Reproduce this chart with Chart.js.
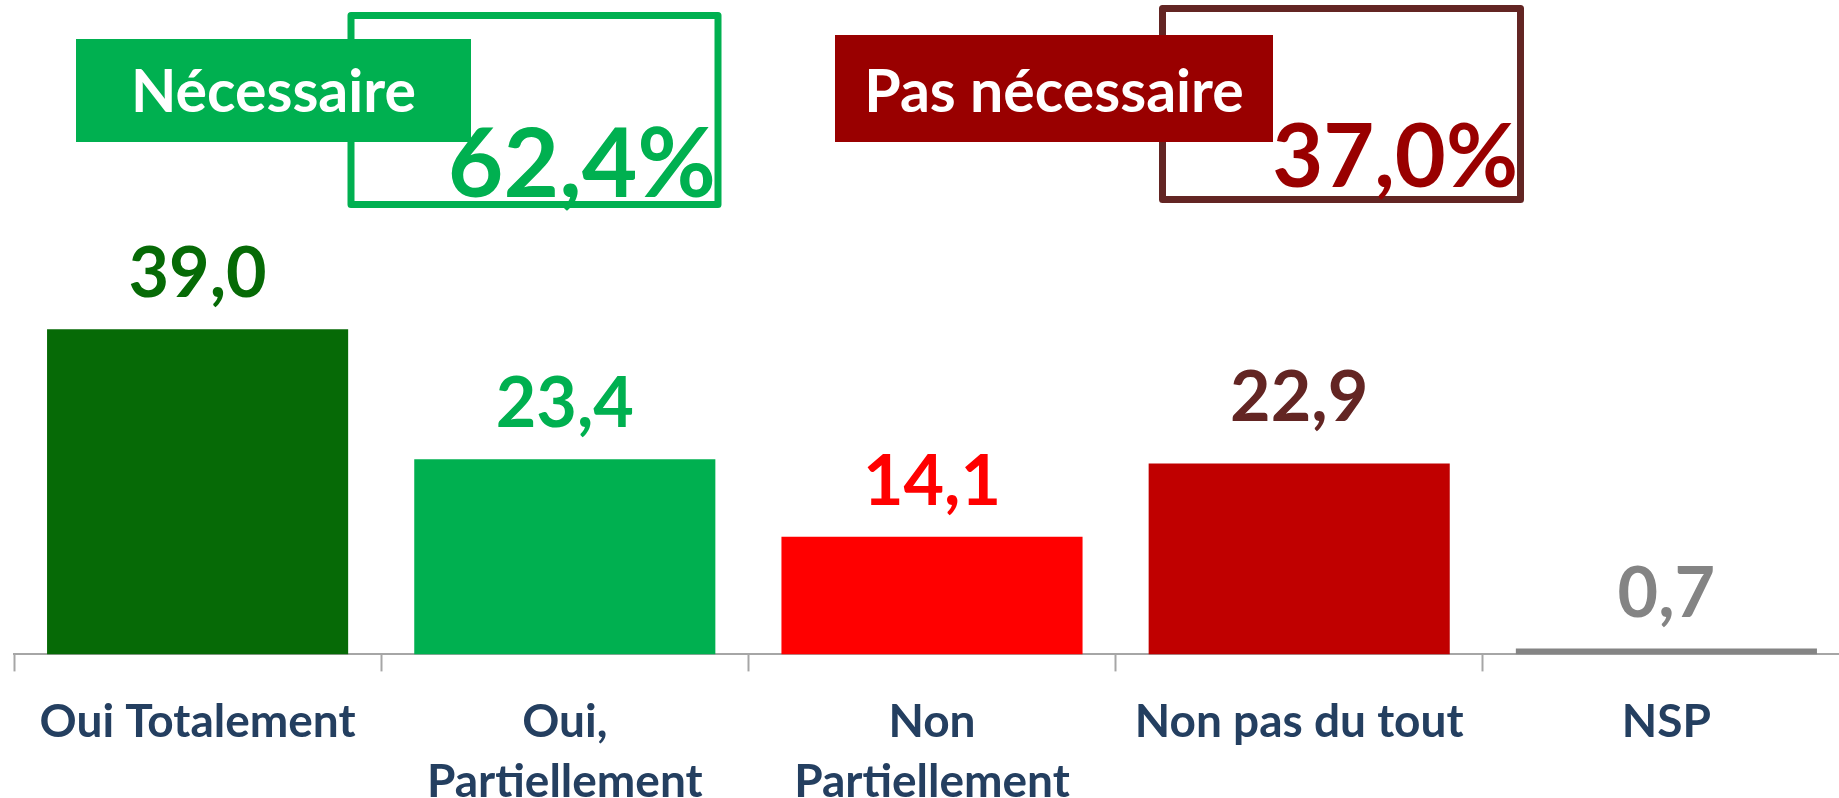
<!DOCTYPE html>
<html>
<head>
<meta charset="utf-8">
<script src="https://cdn.jsdelivr.net/npm/chart.js@4/dist/chart.umd.min.js"></script>
<style>
  html, body { margin: 0; padding: 0; background: #ffffff; overflow: hidden; }
  #wrap { position: relative; width: 1850px; height: 842px; }
</style>
</head>
<body>
<div id="wrap"><canvas id="canvas"></canvas></div>
<script>
// categories and values
const categories = [ 'Oui Totalement', [ 'Oui,', 'Partiellement' ], [ 'Non', 'Partiellement' ], 'Non pas du tout', 'NSP' ];
const values = [ 39.0, 23.4, 14.1, 22.9, 0.7 ];
// groups : which bars add up to each headline percentage
const groupNames = [ 'Nécessaire', 'Pas nécessaire' ];
const groupMembers = [ [ 0, 1 ], [ 2, 3 ] ];

const barColors = [ '#066a06', '#00b050', '#ff0000', '#c00000', '#848484' ];
const labelColors = [ '#066a06', '#00b050', '#ff0000', '#632523', '#848484' ];
const labelLift = [ 0, 0, 0, 10, 0 ];
const FONT = 'Lato, "Open Sans", sans-serif';

function fmt(v) {
	return v.toFixed(1).replace('.', ',');
}

// value labels above the bars
const valueLabels = {
	id : 'valueLabels',
	afterDatasetsDraw(chart) {
		const ctx = chart.ctx;
		const meta = chart.getDatasetMeta(0);
		ctx.save();
		ctx.font = 'bold 70px ' + FONT;
		ctx.textAlign = 'center';
		ctx.textBaseline = 'alphabetic';
		meta.data.forEach(function(bar, i) {
			ctx.fillStyle = labelColors[i];
			ctx.fillText(fmt(values[i]), bar.x, bar.y - 32 - labelLift[i]);
		});
		ctx.restore();
	}
};

// the two headline boxes (Nécessaire / Pas nécessaire)
const headBoxes = {
	id : 'headBoxes',
	afterDraw(chart) {
		const ctx = chart.ctx;
		const totals = groupMembers.map(function(m) {
			return m.reduce(function(s, i) { return s + values[i]; }, 0);
		});
		const boxes = [
			{ frame : [ 351, 15.5, 367, 189 ], frameColor : '#00b050', tag : [ 76, 39, 395, 103 ], tagColor : '#00b050',
			  pctColor : '#00b050', pctRight : 716, pctBase : 197, pctSize : 96 },
			{ frame : [ 1162.5, 8.5, 358, 191 ], frameColor : '#632523', tag : [ 835, 35, 438, 107 ], tagColor : '#990000',
			  pctColor : '#990000', pctRight : 1518, pctBase : 187, pctSize : 88 }
		];
		ctx.save();
		boxes.forEach(function(b, g) {
			ctx.lineWidth = 7;
			ctx.lineJoin = 'round';
			ctx.strokeStyle = b.frameColor;
			ctx.strokeRect(b.frame[0], b.frame[1], b.frame[2], b.frame[3]);
			ctx.fillStyle = b.tagColor;
			ctx.fillRect(b.tag[0], b.tag[1], b.tag[2], b.tag[3]);
			ctx.fillStyle = '#ffffff';
			ctx.font = 'bold 59px ' + FONT;
			ctx.textAlign = 'center';
			ctx.textBaseline = 'alphabetic';
			ctx.fillText(groupNames[g], b.tag[0] + b.tag[2] / 2, 112);
			ctx.fillStyle = b.pctColor;
			ctx.font = 'bold ' + b.pctSize + 'px ' + FONT;
			ctx.textAlign = 'right';
			ctx.fillText(fmt(totals[g]) + '%', b.pctRight, b.pctBase);
		});
		ctx.restore();
	}
};

function createChart() {
	const data = {
		labels : categories,
		datasets : [ {
			data : values,
			backgroundColor : barColors,
			borderWidth : 0,
			barPercentage : 0.82,
			categoryPercentage : 1,
		} ],
	};
	const config = {
		type : 'bar',
		data : data,
		options : {
			responsive : false,
			animation : false,
			events : [],
			layout : { padding : { left : 14, right : 0, top : 0, bottom : 9 } },
			plugins : { legend : { display : false }, tooltip : { enabled : false } },
			scales : {
				x : {
					offset : true,
					grid : { offset : true, display : true, drawOnChartArea : false, drawTicks : true,
						tickLength : 17, tickWidth : 2, color : '#a6a6a6' },
					border : { display : true, color : '#a6a6a6', width : 2 },
					ticks : { color : '#243f60', padding : 21, maxRotation : 0, autoSkip : false,
						font : { family : FONT, size : 46, weight : 'bold', lineHeight : 1.3 } },
				},
				y : { display : false, min : 0, max : 78.5 },
			},
		},
		plugins : [ valueLabels, headBoxes ],
	};
	const canvas = document.getElementById('canvas');
	canvas.width = 1850;
	canvas.height = 842;
	new Chart(canvas, config);
}

window.onload = function() {
	document.fonts.load('bold 46px Lato').then(createChart, createChart);
};
</script>
</body>
</html>
